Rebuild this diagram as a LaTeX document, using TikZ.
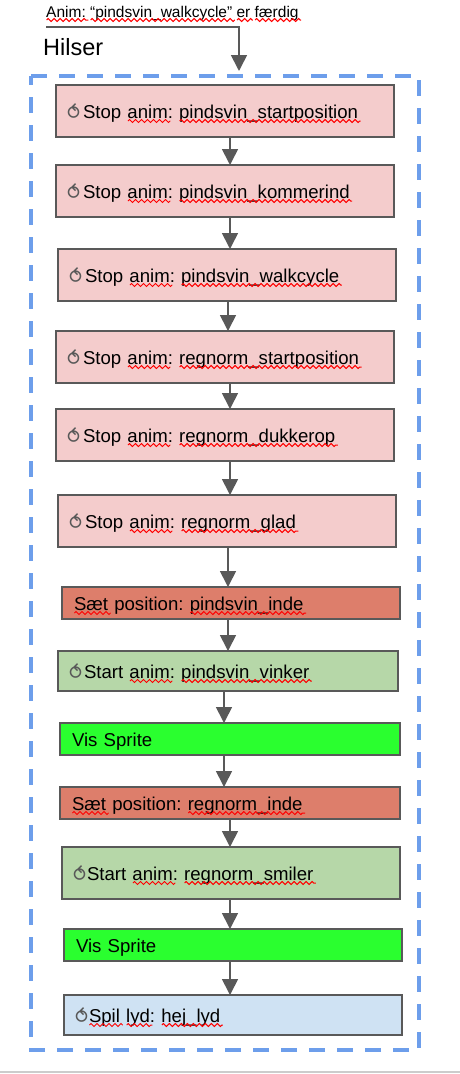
\documentclass[tikz,border=0pt]{standalone}
\usepackage{fontspec}
\setmainfont{Liberation Sans}
\newfontfamily\symfont{DejaVu Sans}
\usetikzlibrary{arrows.meta,decorations.pathmorphing}
\frenchspacing

\definecolor{flowgray}{HTML}{595959}
\definecolor{framecol}{HTML}{6D9EEB}
\definecolor{stopcol}{HTML}{F4CCCC}
\definecolor{poscol}{HTML}{DD7E6B}
\definecolor{startcol}{HTML}{B6D7A8}
\definecolor{spritecol}{HTML}{2AFF2F}
\definecolor{soundcol}{HTML}{CFE2F3}

\tikzset{
  flowbox/.style={draw=flowgray,line width=1.7pt,anchor=north west,outer sep=0pt,inner xsep=11pt,inner ysep=0pt,
    text width=316pt,text height=14pt,text depth=0pt,align=left,font=\fontsize{18.6}{22}\selectfont},
  flowarrow/.style={draw=flowgray,line width=1.7pt,-{Triangle[width=16pt,length=16pt]}},
  frameline/.style={draw=framecol,line width=3.6pt,dash pattern=on 16pt off 12pt},
  squiggle/.style={draw=red,line width=1pt,decorate,decoration={zigzag,amplitude=1.5pt,segment length=6pt}}
}

\newsavebox\wavybox
\newcommand{\wavy}[1]{\sbox\wavybox{#1}\leavevmode\rlap{\usebox\wavybox}\rlap{\smash{\raisebox{-5pt}{\tikz\draw[squiggle] (0pt,0pt) -- (\wd\wavybox+2pt,0pt);}}}\kern\wd\wavybox}
\newcommand{\clock}{\makebox[16pt][l]{\raisebox{-1pt}{\symfont\fontsize{19}{19}\selectfont\textcolor{flowgray}{⥀}}}}

\begin{document}
\begin{tikzpicture}[x=1pt,y=-1pt]
  \useasboundingbox (0,0) rectangle (460,1074);
  \draw[frameline] (31,76) -- (419,76) -- (419,1050) -- (29,1050);
  \draw[frameline,dash phase=7pt] (31,76) -- (31,1050);
  \draw[gray!40,line width=2pt] (0,1072) -- (460,1072);

  \node[anchor=base west,inner sep=0pt,font=\fontsize{15.5}{18}\selectfont] (anim) at (46,17)
    {\wavy{Anim:} \wavy{“pindsvin\_walkcycle”} \wavy{er} \wavy{færdig}};
  \node[anchor=base west,inner sep=0pt,font=\fontsize{23.5}{28}\selectfont] (hilser) at (43,55) {Hilser};
  \coordinate (entry) at (239,71);
  \coordinate (animend) at (46,27);

  \node[flowbox,fill=stopcol,minimum height=52pt] (stop1) at (56,85) {\clock Stop \wavy{anim}: \wavy{pindsvin\_startposition}};
  \node[flowbox,fill=stopcol,minimum height=52pt] (stop2) at (56,165) {\clock Stop \wavy{anim}: \wavy{pindsvin\_kommerind}};
  \node[flowbox,fill=stopcol,minimum height=52pt] (stop3) at (58,249) {\clock Stop \wavy{anim}: \wavy{pindsvin\_walkcycle}};
  \node[flowbox,fill=stopcol,minimum height=52pt] (stop4) at (56,331) {\clock Stop \wavy{anim}: \wavy{regnorm\_startposition}};
  \node[flowbox,fill=stopcol,minimum height=52pt] (stop5) at (56,409) {\clock Stop \wavy{anim}: \wavy{regnorm\_dukkerop}};
  \node[flowbox,fill=stopcol,minimum height=52pt] (stop6) at (58,495) {\clock Stop \wavy{anim}: \wavy{regnorm\_glad}};
  \node[flowbox,fill=poscol,minimum height=32pt] (pos1) at (62,587) {\kern1pt\wavy{Sæt} position: \wavy{pindsvin\_inde}};
  \node[flowbox,fill=startcol,minimum height=40pt,text width=318pt] (start1) at (58,651) {\clock\kern-1pt Start \wavy{anim}: \wavy{pindsvin\_vinker}};
  \node[flowbox,fill=spritecol,minimum height=32pt,text width=318pt] (sprite1) at (60,723) {\kern1pt Vis Sprite};
  \node[flowbox,fill=poscol,minimum height=32pt,text width=318pt] (pos2) at (60,787) {\kern1pt\wavy{Sæt} position: \wavy{regnorm\_inde}};
  \node[flowbox,fill=startcol,minimum height=52pt] (start2) at (62,847) {\clock\kern-2pt Start \wavy{anim}: \wavy{regnorm\_smiler}};
  \node[flowbox,fill=spritecol,minimum height=32pt] (sprite2) at (64,929) {\kern1pt Vis Sprite};
  \node[flowbox,fill=soundcol,minimum height=40pt] (sound) at (64,995) {\clock\kern-2pt \wavy{Spil} \wavy{lyd}: \wavy{hej\_lyd}};

  \draw[flowarrow] (animend) -| (entry);
  \foreach \a/\b/\x in {stop1/stop2/230,stop2/stop3/230,stop3/stop4/228,stop4/stop5/230,stop5/stop6/230,
    stop6/pos1/228,pos1/start1/228,start1/sprite1/224,sprite1/pos2/224,pos2/start2/230,start2/sprite2/230,sprite2/sound/230}
    \draw[flowarrow] (\x,0 |- \a.south) -- (\x,0 |- \b.north);
\end{tikzpicture}
\end{document}
